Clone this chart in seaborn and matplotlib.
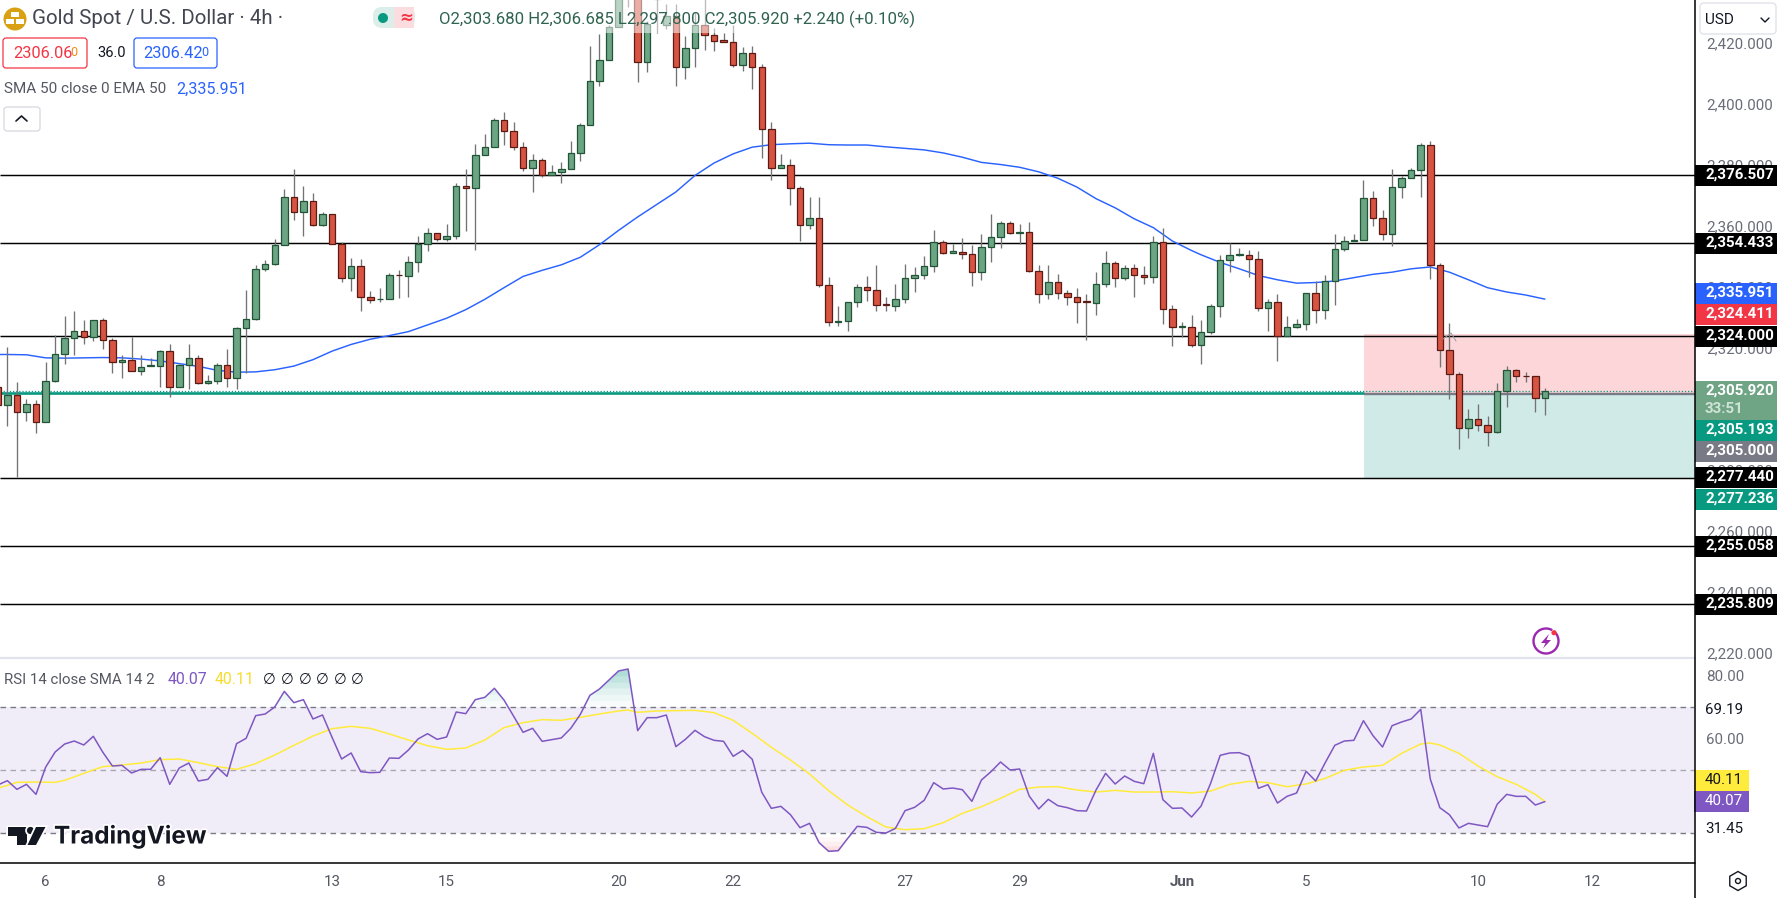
import numpy as np
import pandas as pd
import matplotlib
matplotlib.use('Agg')
import matplotlib.pyplot as plt
import matplotlib.patheffects as pe
from matplotlib.patches import Rectangle, FancyBboxPatch, Circle, Polygon, RegularPolygon, Arc
import seaborn as sns

# 4h candles
opens = [2307.1,
    2301.3, 2304.6, 2298.9, 2301.6, 2295.6, 2309.1, 2318.0, 2323.3, 2325.6, 2323.5,
    2329.2, 2322.6, 2315.3, 2316.1, 2312.4, 2314.1, 2314.1, 2319.0, 2307.1, 2314.4,
    2316.7, 2308.5, 2309.2, 2314.4, 2310.2, 2326.6, 2329.5, 2345.9, 2347.5, 2353.8,
    2369.5, 2364.6, 2368.2, 2360.3, 2363.9, 2354.1, 2343.0, 2346.9, 2336.7, 2336.0,
    2336.1, 2344.0, 2343.6, 2348.2, 2354.1, 2357.7, 2355.7, 2356.7, 2373.1, 2372.5,
    2383.3, 2385.9, 2394.8, 2391.2, 2385.9, 2379.0, 2381.6, 2376.6, 2377.7, 2378.7,
    2383.9, 2393.1, 2407.6, 2414.4, 2425.2, 2436.1, 2436.1, 2413.7, 2436.6, 2426.0,
    2428.7, 2412.0, 2418.4, 2426.0, 2422.6, 2420.8, 2420.3, 2412.7, 2416.7, 2412.2,
    2391.8, 2379.0, 2380.0, 2372.5, 2360.3, 2362.6, 2340.7, 2328.4, 2328.8, 2335.1,
    2340.0, 2339.0, 2334.2, 2333.8, 2336.1, 2343.0, 2343.9, 2346.9, 2354.8, 2351.2,
    2351.5, 2350.8, 2344.8, 2353.1, 2356.4, 2361.0, 2357.7, 2358.0, 2345.3, 2337.7,
    2341.6, 2338.0, 2336.7, 2335.2, 2334.8, 2341.0, 2347.9, 2343.0, 2346.2, 2343.9,
    2343.3, 2354.8, 2332.8, 2326.8, 2326.9, 2321.0, 2325.2, 2333.8, 2348.9, 2350.4,
    2350.5, 2349.2, 2333.1, 2335.1, 2323.8, 2326.9, 2327.9, 2338.0, 2332.4, 2342.0,
    2352.5, 2355.1, 2355.4, 2369.2, 2362.6, 2357.4, 2372.8, 2375.7, 2378.4, 2386.6,
    2347.2, 2319.3, 2311.5, 2293.8, 2296.7, 2294.8, 2292.4, 2305.8, 2312.8, 2310.9,
    2310.8, 2303.68]
highs = [2311.5,
    2320.2, 2308.8, 2303.3, 2303.0, 2315.5, 2324.3, 2330.3, 2332.2, 2329.0, 2329.2,
    2329.8, 2323.3, 2317.5, 2323.7, 2317.5, 2316.7, 2319.3, 2321.3, 2314.8, 2321.1,
    2317.5, 2311.0, 2315.1, 2319.7, 2326.8, 2338.8, 2347.0, 2348.9, 2355.7, 2372.1,
    2378.5, 2372.9, 2370.8, 2364.4, 2363.9, 2354.7, 2349.5, 2349.2, 2338.5, 2339.7,
    2344.6, 2345.6, 2350.1, 2356.7, 2359.4, 2357.7, 2360.7, 2374.1, 2378.7, 2386.7,
    2390.2, 2395.2, 2397.4, 2394.1, 2387.6, 2383.6, 2382.3, 2379.8, 2381.0, 2387.7,
    2393.7, 2419.1, 2422.8, 2426.0, 2440.5, 2442.6, 2438.3, 2427.3, 2438.3, 2432.8,
    2432.8, 2422.1, 2430.1, 2434.4, 2424.9, 2423.2, 2425.7, 2418.6, 2419.1, 2413.1,
    2394.2, 2383.6, 2381.8, 2372.9, 2369.4, 2369.6, 2343.2, 2333.6, 2335.1, 2341.0,
    2343.7, 2347.3, 2336.8, 2340.8, 2347.5, 2346.5, 2350.0, 2358.5, 2355.2, 2354.1,
    2356.1, 2353.6, 2357.2, 2363.9, 2361.5, 2361.5, 2360.7, 2361.4, 2347.3, 2347.0,
    2344.3, 2339.0, 2339.7, 2337.5, 2345.0, 2351.9, 2348.6, 2347.2, 2347.5, 2346.9,
    2356.8, 2359.4, 2333.9, 2328.5, 2330.9, 2329.0, 2334.2, 2350.3, 2354.4, 2352.8,
    2352.1, 2351.6, 2335.9, 2337.7, 2330.3, 2329.6, 2338.0, 2341.8, 2344.0, 2357.2,
    2356.5, 2357.4, 2374.9, 2371.3, 2365.3, 2378.5, 2376.2, 2379.0, 2387.2, 2387.7,
    2347.9, 2328.1, 2312.2, 2300.0, 2301.4, 2297.5, 2308.5, 2313.9, 2313.1, 2311.9,
    2310.8, 2306.685]
lows = [2298.4,
    2294.5, 2277.5, 2295.9, 2292.0, 2295.6, 2308.8, 2314.8, 2317.5, 2321.1, 2322.2,
    2319.7, 2311.7, 2310.1, 2312.4, 2311.0, 2314.1, 2307.1, 2303.8, 2307.1, 2306.6,
    2308.2, 2308.2, 2308.2, 2307.3, 2306.6, 2311.7, 2329.0, 2345.1, 2347.2, 2353.6,
    2361.8, 2356.6, 2359.9, 2359.9, 2354.1, 2341.5, 2338.5, 2332.0, 2334.6, 2335.0,
    2336.1, 2336.3, 2336.6, 2344.8, 2351.9, 2355.0, 2355.0, 2355.7, 2358.3, 2352.1,
    2383.3, 2385.9, 2386.4, 2384.9, 2377.9, 2371.1, 2376.0, 2376.6, 2374.0, 2378.7,
    2381.4, 2393.1, 2405.7, 2414.4, 2425.2, 2431.7, 2407.1, 2410.4, 2423.2, 2424.6,
    2406.0, 2408.3, 2412.0, 2417.8, 2417.2, 2420.2, 2412.0, 2410.7, 2404.8, 2382.2,
    2374.9, 2379.0, 2366.8, 2355.0, 2358.8, 2339.9, 2327.0, 2327.3, 2325.5, 2333.3,
    2335.5, 2332.2, 2331.9, 2332.2, 2334.6, 2338.2, 2342.4, 2344.8, 2350.8, 2351.0,
    2349.0, 2340.1, 2342.1, 2348.1, 2352.7, 2357.2, 2354.1, 2344.7, 2334.6, 2335.9,
    2335.9, 2333.9, 2328.1, 2322.6, 2330.6, 2339.9, 2339.9, 2342.3, 2336.8, 2341.0,
    2341.2, 2327.7, 2320.6, 2323.5, 2320.2, 2314.8, 2324.6, 2330.1, 2344.8, 2350.0,
    2343.2, 2332.2, 2325.5, 2315.6, 2323.8, 2326.6, 2325.7, 2328.1, 2329.3, 2333.9,
    2351.7, 2354.9, 2355.4, 2359.8, 2355.2, 2353.3, 2369.0, 2375.7, 2369.4, 2342.5,
    2313.7, 2303.2, 2286.9, 2290.4, 2292.7, 2287.8, 2292.1, 2300.6, 2308.8, 2308.8,
    2298.9, 2297.8]
closes = [2301.1,
    2304.6, 2298.9, 2301.6, 2295.6, 2309.2, 2318.0, 2323.3, 2325.6, 2323.5, 2329.2,
    2322.6, 2315.3, 2316.1, 2312.4, 2313.8, 2314.2, 2319.0, 2307.1, 2314.4, 2316.7,
    2308.5, 2309.2, 2314.4, 2310.2, 2326.6, 2329.5, 2345.9, 2347.5, 2353.8, 2369.5,
    2364.6, 2368.2, 2360.3, 2363.9, 2354.1, 2343.0, 2346.9, 2336.7, 2335.7, 2336.1,
    2343.9, 2343.9, 2348.2, 2354.1, 2357.7, 2355.7, 2356.7, 2373.1, 2372.5, 2383.3,
    2385.9, 2394.8, 2391.2, 2385.9, 2379.0, 2381.6, 2376.6, 2377.7, 2378.7, 2383.9,
    2393.1, 2407.6, 2414.4, 2425.2, 2437.2, 2440.5, 2413.7, 2426.2, 2434.4, 2428.7,
    2412.0, 2418.4, 2426.0, 2422.6, 2420.6, 2420.2, 2412.7, 2416.7, 2412.0, 2391.8,
    2379.0, 2380.0, 2372.4, 2360.3, 2362.6, 2340.6, 2328.4, 2328.9, 2335.1, 2340.0,
    2339.0, 2334.0, 2334.0, 2336.1, 2343.0, 2343.9, 2346.9, 2354.8, 2351.0, 2351.6,
    2350.7, 2344.8, 2353.1, 2356.4, 2361.0, 2357.7, 2358.1, 2345.1, 2337.7, 2341.6,
    2338.0, 2336.7, 2335.0, 2335.0, 2341.0, 2347.9, 2343.0, 2346.2, 2343.9, 2343.2,
    2354.8, 2332.8, 2326.9, 2327.0, 2321.0, 2325.2, 2333.8, 2348.9, 2350.5, 2350.6,
    2349.2, 2333.1, 2335.1, 2323.8, 2326.9, 2327.9, 2338.0, 2332.4, 2342.0, 2352.5,
    2355.1, 2355.5, 2369.2, 2362.6, 2357.4, 2372.8, 2375.7, 2378.4, 2386.6, 2347.2,
    2319.3, 2311.5, 2293.8, 2296.7, 2294.8, 2292.4, 2305.8, 2312.8, 2310.8, 2310.7,
    2303.6, 2305.92]

# EMA 50 (not read at every candle)
ema_index = [0, 1, 3, 5, 7, 9, 11, 13, 15, 17, 19, 21, 23, 25, 27, 29, 31, 33, 35, 37, 39,
    41, 43, 45, 47, 49, 51, 53, 55, 57, 59, 61, 63, 65, 67, 69, 71, 73, 75, 77, 79,
    81, 83, 85, 87, 89, 91, 93, 95, 97, 99, 101, 103, 105, 107, 109, 111, 113, 115, 117, 119,
    121, 123, 125, 126, 128, 130, 132, 134, 136, 138, 140, 142, 144, 146, 148, 150, 152, 154, 156, 158,
    160, 162]
ema_values = [2317.8, 2317.8, 2317.7, 2316.7, 2316.6, 2316.7, 2316.8, 2316.7, 2316.3, 2315.7, 2314.8,
    2313.9, 2312.6, 2312.0, 2312.1, 2312.8, 2314.0, 2316.1, 2318.9, 2321.1, 2322.8,
    2324.0, 2325.3, 2327.5, 2329.7, 2332.5, 2335.9, 2339.7, 2343.4, 2345.4, 2347.2, 2349.7, 2353.8,
    2358.5, 2362.9, 2367.0, 2371.1, 2376.5, 2380.6, 2383.6, 2385.8, 2386.6, 2386.9, 2387.1, 2386.6,
    2386.5, 2386.5, 2385.9, 2385.4, 2384.9, 2383.9, 2382.5, 2380.8, 2380.1, 2379.2, 2377.7, 2375.6,
    2372.7, 2368.9, 2365.9, 2362.3, 2359.4, 2355.0, 2351.9, 2350.5, 2348.0, 2345.9, 2343.7, 2342.3,
    2341.2, 2341.4, 2341.9, 2343.0, 2344.1, 2344.8, 2345.9, 2346.5, 2344.8, 2342.3, 2339.7, 2338.3,
    2337.3, 2335.951]

# RSI 14, one value per candle
rsi_values = [45.35,
    46.72, 43.97, 45.56, 42.38, 50.96, 55.82, 58.36, 59.31, 58.05, 60.80,
    55.72, 51.38, 51.59, 49.16, 50.32, 50.32, 54.02, 45.56, 50.74, 52.33,
    46.62, 47.15, 50.85, 48.10, 58.47, 60.16, 67.36, 67.89, 70.11, 75.08,
    71.48, 72.44, 66.30, 67.57, 60.48, 53.60, 55.51, 49.58, 49.26, 49.37,
    53.92, 53.81, 56.46, 59.95, 61.64, 59.84, 60.59, 68.52, 67.99, 72.44,
    73.18, 76.04, 72.33, 67.25, 62.07, 63.34, 59.21, 59.74, 60.27, 63.34,
    67.78, 73.81, 75.82, 78.68, 81.54, 82.17, 62.60, 66.72, 66.72, 67.57,
    57.52, 59.84, 62.70, 60.69, 59.53, 59.21, 54.45, 56.35, 53.50, 43.02,
    37.94, 38.57, 35.93, 31.80, 33.18, 27.04, 24.29, 24.50, 28.42, 32.23,
    31.91, 30.32, 30.11, 31.59, 37.20, 38.26, 40.48, 46.09, 44.08, 44.39,
    43.86, 40.16, 46.93, 49.58, 52.65, 50.11, 50.43, 41.86, 37.73, 40.80,
    38.79, 38.15, 37.20, 37.09, 43.76, 49.05, 45.66, 48.20, 46.51, 45.77,
    55.40, 40.69, 37.94, 38.05, 35.19, 38.68, 45.88, 54.77, 55.51, 55.61,
    54.55, 44.29, 45.45, 39.63, 41.75, 42.81, 49.69, 46.62, 52.44, 57.94,
    59.31, 59.53, 65.77, 61.01, 57.41, 64.18, 65.35, 66.30, 69.37, 47.25,
    38.15, 35.93, 31.70, 33.18, 32.65, 32.12, 39.21, 42.38, 41.75, 41.75,
    38.99, 40.07]

rsi_sma_index = [0, 2, 4, 6, 7, 9, 11, 13, 15, 17, 19, 21, 23, 25, 27, 29, 31, 33, 35, 37, 39,
    41, 43, 45, 47, 49, 51, 53, 55, 57, 59, 61, 63, 65, 66, 67, 69, 71, 73, 75, 77, 79,
    81, 83, 85, 87, 89, 91, 93, 95, 97, 99, 101, 103, 105, 107, 109, 111, 113, 115, 117, 119,
    121, 123, 125, 127, 129, 131, 133, 135, 137, 139, 141, 143, 145, 147, 149, 150, 151, 153, 155, 157,
    159, 161, 162]
rsi_sma_values = [44.29, 46.19, 46.30, 46.19, 46.83, 49.05, 51.17, 51.70, 52.33, 53.39, 53.60,
    52.44, 51.17, 50.32, 52.12, 54.87, 57.94, 60.90, 63.23, 63.97, 63.34,
    61.54, 59.63, 57.83, 56.67, 57.09, 59.63, 63.55, 65.14, 66.09, 65.88, 66.83, 67.89, 68.84, 69.16,
    68.42, 68.84, 68.95, 69.05, 68.31, 65.88, 61.75, 57.31, 53.28, 48.84, 43.55, 39.00, 35.30, 32.01,
    31.17, 31.48, 33.39, 36.35, 38.47, 41.12, 43.97, 44.71, 44.82, 43.76, 43.12, 43.65, 43.12, 43.12,
    43.23, 42.81, 43.44, 45.56, 46.51, 46.09, 44.82, 45.66, 47.46, 50.00, 51.06, 51.59, 55.40, 58.36,
    58.68, 58.05, 55.40, 51.38, 47.99, 45.56, 42.38, 40.11]

support_levels = [2376.507, 2354.433, 2324.000, 2277.440, 2255.058, 2235.809]
entry_price = 2305.0
stop_price = 2324.411
target_price = 2277.236
bid_line = 2305.193
last_close = 2305.92

price_ticks = [2220, 2240, 2260, 2280, 2300, 2320, 2340, 2360, 2380, 2400, 2420]
rsi_ticks = [60, 80]
date_labels = ['6', '8', '13', '15', '20', '22', '27', '29', 'Jun', '5', '10', '12']
date_index = [5, 17, 35, 47, 65, 77, 95, 107, 124, 137, 155, 167]
tag_labels = ['2,376.507', '2,354.433', '2,335.951', '2,324.411', '2,324.000',
              '2,305.193', '2,305.000', '2,277.440', '2,277.236', '2,255.058', '2,235.809']

GREEN = '#6ba583'
GREEN_EDGE = '#225437'
RED = '#d75442'
RED_EDGE = '#5b1a13'
WICK = '#737375'
TEAL = '#089981'
PINK = '#f23645'
BLUE = '#2962ff'
PURPLE = '#7e57c2'
YELLOW = '#ffeb3b'
AXIS_GREY = '#6a6d78'
TEXT_GREY = '#555862'

W, H = 1778, 898
PANE_R, MAIN_B, RSI_B = 1695, 658, 863

sns.set_theme(style='white')
plt.rcParams['font.family'] = ['Roboto', 'DejaVu Sans']

fig = plt.figure(figsize=(W / 100, H / 100), dpi=100, facecolor='white')
ax = fig.add_axes([0, (H - MAIN_B) / H, PANE_R / W, MAIN_B / H])
ax_rsi = fig.add_axes([0, (H - RSI_B) / H, PANE_R / W, (RSI_B - MAIN_B) / H])

x_min, x_max = 0.228, 177.72
x = np.arange(len(opens))
o = np.array(opens)
c = np.array(closes)
up = c >= o

# horizontal levels and the long position box sit under the candles
box_left = 143.06
ax.fill_between([box_left, x_max], entry_price, stop_price, color=PINK, alpha=0.2, lw=0, zorder=1)
ax.fill_between([box_left, x_max], target_price, entry_price, color=TEAL, alpha=0.19, lw=0, zorder=1)
ax.hlines(support_levels, x_min, x_max, color='black', lw=1.05, zorder=1.5)
ax.hlines(bid_line, x_min, box_left, color=TEAL, lw=1.9, zorder=1.6)
ax.hlines(last_close, x_min, x_max, color=TEAL, lw=0.9, linestyles=(0, (1, 1.5)), zorder=1.6)
ax.hlines(entry_price, box_left, x_max, color='#787b86', lw=1.7, zorder=1.6)

ema_df = pd.DataFrame({'bar': ema_index, 'ema': ema_values})
sns.lineplot(data=ema_df, x='bar', y='ema', color=BLUE, lw=1.05, errorbar=None, legend=False, ax=ax, zorder=1.8)

ax.vlines(x, lows, highs, color=WICK, lw=0.95, zorder=2)
ax.bar(x[up], (c - o)[up], bottom=o[up], width=0.68, color=GREEN, edgecolor=GREEN_EDGE, lw=0.9, zorder=3)
ax.bar(x[~up], (c - o)[~up], bottom=o[~up], width=0.68, color=RED, edgecolor=RED_EDGE, lw=0.9, zorder=3)

ax.set_xlim(x_min, x_max)
ax.set_ylim(2218.26, 2434.06)
ax.set_xticks([])
ax.set_yticks(price_ticks)
ax.set_yticklabels([f'{v:,.3f}' for v in price_ticks])
ax.yaxis.tick_right()
ax.tick_params(axis='y', length=0, pad=8, labelsize=10.9, labelcolor=AXIS_GREY)
ax.set(xlabel='', ylabel='')

# RSI pane
rsi_df = pd.DataFrame({'bar': x, 'rsi': rsi_values})
sma_df = pd.DataFrame({'bar': rsi_sma_index, 'sma': rsi_sma_values})
ax_rsi.axhspan(30, 70, color=PURPLE, alpha=0.1, lw=0, zorder=0)
ax_rsi.hlines([70, 30], x_min, x_max, color='#787b86', lw=1.0, linestyles=(0, (4, 3.2)), zorder=1)
ax_rsi.hlines(50, x_min, x_max, color='#787b86', alpha=0.6, lw=1.0, linestyles=(0, (4, 3.2)), zorder=1)
rsi_arr = np.array(rsi_values)
# faded gradient where RSI leaves the band
for lvl, a in zip([70.5, 72, 74, 76, 78, 80], [0.03, 0.04, 0.05, 0.07, 0.08, 0.09]):
    ax_rsi.fill_between(x, np.minimum(rsi_arr, 82.2), lvl, where=rsi_arr > lvl, color=TEAL, alpha=a, lw=0, interpolate=True, zorder=1.2)
for lvl, a in zip([29, 27.5, 26, 25], [0.03, 0.05, 0.07, 0.09]):
    ax_rsi.fill_between(x, rsi_arr, lvl, where=rsi_arr < lvl, color=PINK, alpha=a, lw=0, interpolate=True, zorder=1.2)
sns.lineplot(data=sma_df, x='bar', y='sma', color=YELLOW, lw=1.1, errorbar=None, legend=False, ax=ax_rsi, zorder=2)
sns.lineplot(data=rsi_df, x='bar', y='rsi', color=PURPLE, lw=1.1, errorbar=None, legend=False, ax=ax_rsi, zorder=3)
ax_rsi.set_xlim(x_min, x_max)
ax_rsi.set_ylim(20.59, 85.66)
ax_rsi.set_xticks(date_index)
ax_rsi.set_xticklabels(date_labels)
ax_rsi.get_xticklabels()[date_labels.index('Jun')].set_fontweight('bold')
ax_rsi.set_yticks(rsi_ticks)
ax_rsi.set_yticklabels([f'{v:.2f}' for v in rsi_ticks])
ax_rsi.yaxis.tick_right()
ax_rsi.tick_params(axis='y', length=0, pad=8, labelsize=10.9, labelcolor=AXIS_GREY)
ax_rsi.tick_params(axis='x', length=0, pad=9, labelsize=10.9, labelcolor=TEXT_GREY)
ax_rsi.set(xlabel='', ylabel='')

for a in (ax, ax_rsi):
    sns.despine(ax=a, left=True, bottom=True, right=True, top=True)

# everything else is drawn in pixel coordinates on top
ov = fig.add_axes([0, 0, 1, 1])
ov.set_xlim(0, W)
ov.set_ylim(H, 0)
ov.axis('off')

# legend background washes out the candles under it
ov.add_patch(Rectangle((430, 0), 490, 33, fc='white', alpha=0.52, lw=0))

ov.plot([0, PANE_R], [MAIN_B, MAIN_B], color='#e0e3eb', lw=1.6)
ov.plot([0, PANE_R], [RSI_B, RSI_B], color='black', lw=1.1)
ov.plot([PANE_R, PANE_R], [0, H], color='black', lw=1.1)

# cut the price scale under the currency button
ov.add_patch(Rectangle((PANE_R + 1, 0), W - PANE_R, 38, fc='white', lw=0))
ov.add_patch(FancyBboxPatch((1702, 5), 72, 27, boxstyle='round,pad=2,rounding_size=4', fc='white', ec='#e0e3eb', lw=1))
ov.text(1705, 20, 'USD', fontsize=11, color='#131722', va='center')
ov.plot([1761, 1765, 1769], [18, 22, 18], color='#131722', lw=1)

# price tags on the scale
tag_tops = [165, 233, 283, 304, 326, 420, 441, 467, 489, 536, 594]
tag_colors = ['black', 'black', BLUE, PINK, 'black', TEAL, '#787b86', 'black', TEAL, 'black', 'black']
for label, top, col in zip(tag_labels, tag_tops, tag_colors):
    ov.add_patch(Rectangle((PANE_R, top), 82, 20.5, fc=col, lw=0))
    ov.text(1705, top + 10, label, color='white', fontsize=10.9, fontweight='bold', va='center')
ov.add_patch(Rectangle((PANE_R, 381), 82, 39, fc='#6fa585', lw=0))
ov.text(1705, 391, '2,305.920', color='white', fontsize=10.9, fontweight='bold', va='center')
ov.text(1705, 409, '33:51', color='#cfe3d7', fontsize=10.9, fontweight='bold', va='center')

# RSI scale labels
for top, bottom in [(698, 720), (818, 839)]:
    ov.add_patch(Rectangle((PANE_R - 1, top), 50, bottom - top, fc='white', lw=0))
ov.text(1705, 710, '69.19', color='#131722', fontsize=10.9, va='center')
ov.text(1705, 829, '31.45', color='#131722', fontsize=10.9, va='center')
ov.add_patch(Rectangle((PANE_R - 1, 770), 55, 21, fc=YELLOW, lw=0))
ov.text(1705, 780, '40.11', color='#131722', fontsize=10.9, va='center')
ov.add_patch(Rectangle((PANE_R - 1, 791), 55, 21, fc=PURPLE, lw=0))
ov.text(1705, 801, '40.07', color='white', fontsize=10.9, va='center')

# header
ov.add_patch(Circle((15, 19), 11.5, fc='#d9a012', lw=0))
for bx, by in [(15, 14), (10, 21), (20, 21)]:
    ov.add_patch(Rectangle((bx - 4, by - 2.5), 8, 5, fc='white', lw=0))
ov.text(32, 19, 'Gold Spot / U.S. Dollar · 4h ·', fontsize=14.8, color='#434651', va='center')
ov.add_patch(FancyBboxPatch((375, 9), 38, 17, boxstyle='round,pad=2,rounding_size=9', fc='#dceee9', ec='none'))
ov.add_patch(Rectangle((394, 7), 20, 21, fc='#fbdde0', lw=0))
ov.add_patch(Circle((383, 18), 5, fc=TEAL, lw=0))
ov.text(406, 18, '≈', color=PINK, fontsize=12, ha='center', va='center', fontweight='bold', family=['DejaVu Sans'])
ov.text(439, 19, 'O2,303.680 H2,306.685 L2,297.800 C2,305.920 +2.240 (+0.10%)', fontsize=12.1, color='#2f6350', va='center')

# buy / sell boxes
ov.add_patch(FancyBboxPatch((5, 40), 80, 26, boxstyle='round,pad=2,rounding_size=3', fc='white', ec=PINK, lw=0.9))
ov.text(13, 54, '2306.06', fontsize=11.8, color=PINK, va='center')
ov.text(70, 52, '0', fontsize=9, color='#ef8a1a', va='center')
ov.text(97, 53, '36.0', fontsize=10.5, color='#131722', va='center')
ov.add_patch(FancyBboxPatch((136, 40), 79, 26, boxstyle='round,pad=2,rounding_size=3', fc='white', ec=BLUE, lw=0.9))
ov.text(143, 54, '2306.42', fontsize=11.8, color=BLUE, va='center')
ov.text(201, 52, '0', fontsize=9, color=BLUE, va='center')

ov.text(4, 89, 'SMA 50 close 0 EMA 50', fontsize=11, color=TEXT_GREY, va='center')
ov.text(176, 89, '2,335.951', fontsize=11.6, color=BLUE, va='center')
ov.add_patch(FancyBboxPatch((6, 109), 32, 20, boxstyle='round,pad=2,rounding_size=3', fc='white', ec='#d6d8de', lw=0.9))
ov.plot([16, 21.5, 27], [121, 116, 121], color='#131722', lw=1.2)

# RSI legend
ov.text(4, 680, 'RSI 14 close SMA 14 2', fontsize=10.8, color=TEXT_GREY, va='center')
ov.text(168, 680, '40.07', fontsize=11.4, color=PURPLE, va='center')
ov.text(215, 680, '40.11', fontsize=11.4, color='#f7dc2e', va='center')
for gx in [263, 281, 299, 316, 334, 351]:
    ov.text(gx, 680, '∅', fontsize=10.5, color='#131722', va='center', family=['DejaVu Sans'])

# TradingView logo
halo = [pe.withStroke(linewidth=2.5, foreground='white')]
ov.add_patch(Polygon([(8, 827), (27, 827), (27, 845), (17, 845), (17, 836), (8, 836)], fc='#131722', lw=0, path_effects=halo))
ov.add_patch(Circle((30.5, 830.5), 3.6, fc='#131722', lw=0, path_effects=halo))
ov.add_patch(Polygon([(36, 827), (45.5, 827), (36, 845), (27.5, 845)], fc='#131722', lw=0, path_effects=halo))
ov.text(54, 836, 'TradingView', fontsize=17.5, fontweight='bold', color='#131722', va='center', family=['Inter', 'DejaVu Sans'], path_effects=halo)

# alert bolt
ov.add_patch(Arc((1546, 641), 25, 25, theta1=-50, theta2=300, ec='#9c27b0', lw=1.7))
ov.add_patch(Polygon([(1549, 634), (1541, 643), (1545.5, 643), (1543, 648.5), (1551, 640), (1546.5, 640)], fc='#9c27b0', lw=0))
ov.add_patch(Circle((1554, 632.7), 2.6, fc=PINK, lw=0))

# settings hexagon
ov.add_patch(RegularPolygon((1738, 881), 6, radius=9.5, fc='white', ec='#131722', lw=1))
ov.add_patch(Circle((1738, 881), 2.5, fc='white', ec='#131722', lw=1))

# stray cursor marks
ov.plot([1443, 1451, 1456], [339, 333, 341], color='#9a9ca3', lw=0.7)

fig.savefig('out.png', dpi=100)
plt.close(fig)
